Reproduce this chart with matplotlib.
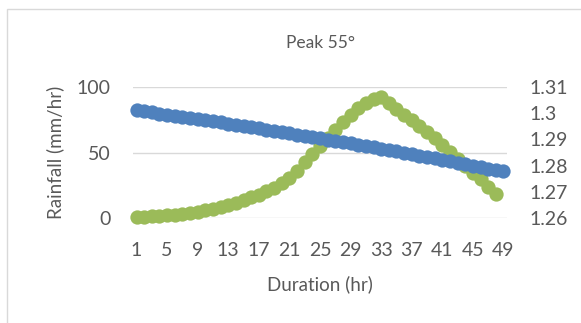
import matplotlib
matplotlib.use("Agg")
import matplotlib.pyplot as plt
from matplotlib.patches import Rectangle

plt.rcParams['font.family'] = ['Lato', 'DejaVu Sans']

title = "Peak 55°"
x_label = "Duration (hr)"
y_label = "Rainfall (mm/hr)"

durations_blue = list(range(1, 50))
durations_green = list(range(1, 49))

rainfall = [0.8, 1.0, 1.3, 1.7, 2.1, 2.6, 3.2, 3.9, 4.8, 5.8, 7.0, 8.4, 10.0, 11.8,
            13.7, 15.7, 17.9, 20.3, 23.0, 26.5, 30.5, 36.0, 42.5, 49.0, 55.0, 61.0,
            67.5, 73.5, 79.0, 84.0, 88.0, 91.0, 92.3, 88.0, 83.5, 79.0, 74.5, 70.0,
            65.5, 61.0, 56.0, 50.5, 45.0, 39.5, 34.5, 29.5, 24.0, 18.5]

ratio = [1.3011, 1.30070, 1.30029, 1.29988, 1.29946, 1.29904, 1.29862, 1.29820,
         1.29777, 1.29733, 1.29690, 1.29646, 1.29602, 1.29557, 1.29512, 1.29467,
         1.29421, 1.29375, 1.29328, 1.29282, 1.29235, 1.29187, 1.29139, 1.29091,
         1.29043, 1.28994, 1.28945, 1.28895, 1.28845, 1.28795, 1.28745, 1.28694,
         1.28642, 1.28591, 1.28539, 1.28487, 1.28434, 1.28381, 1.28328, 1.28274,
         1.28220, 1.28165, 1.28111, 1.28056, 1.28000, 1.27944, 1.27888, 1.27832,
         1.27775]

x_ticks = list(range(1, 50, 4))
left_ticks = [0, 50, 100]
right_ticks = [1.26, 1.27, 1.28, 1.29, 1.30, 1.31]
right_tick_labels = ["1.26", "1.27", "1.28", "1.29", "1.3", "1.31"]

W, H = 581, 323
fig = plt.figure(figsize=(W / 100, H / 100), dpi=100)
fig.patch.set_facecolor("white")

# chart border
fig.add_artist(Rectangle((7 / W, -0.1), 1.2, 1 - 9 / H + 0.1, transform=fig.transFigure,
                         fill=False, edgecolor="#D9D9D9", linewidth=1.0))

left, right, bottom, top = 133 / W, 507 / W, 1 - 218 / H, 1 - 87 / H
ax = fig.add_axes([left, bottom, right - left, top - bottom])
ax2 = ax.twinx()

text_color = "#595959"
green = "#9BBB59"
blue = "#4F81BD"

ax.plot(durations_green, rainfall, color=green, linewidth=4, marker="o",
        markersize=10.3, markeredgewidth=0, clip_on=False, zorder=3)
ax2.plot(durations_blue, ratio, color=blue, linewidth=4, marker="o",
         markersize=10.3, markeredgewidth=0, clip_on=False, zorder=3)

ax.set_xlim(0.54, 49.46)
ax.set_ylim(0, 100)
ax2.set_ylim(1.26, 1.31)

ax.set_yticks(left_ticks)
ax.set_yticklabels([str(v) for v in left_ticks])
ax2.set_yticks(right_ticks)
ax2.set_yticklabels(right_tick_labels)
ax.set_xticks(x_ticks)
ax.set_xticklabels([str(v) for v in x_ticks])

for a in (ax, ax2):
    for s in a.spines.values():
        s.set_visible(False)
    a.set_facecolor("none")

ax.grid(axis="y", color="#D9D9D9", linewidth=1.0)
ax.set_axisbelow(True)

ax.tick_params(axis="x", length=0, pad=17, labelsize=14, colors=text_color)
ax.tick_params(axis="y", length=0, pad=16, labelsize=14, colors=text_color)
ax2.tick_params(axis="y", length=0, pad=16, labelsize=14, colors=text_color)

ax.set_xlabel(x_label, fontsize=13.5, color=text_color, labelpad=12)
ax.set_ylabel(y_label, fontsize=13.5, color=text_color, labelpad=9)

fig.text(((left + right) / 2), 1 - 43 / H, title, ha="center", va="center",
         fontsize=12.5, color=text_color)

fig.savefig("out.png", dpi=100, facecolor="white")
